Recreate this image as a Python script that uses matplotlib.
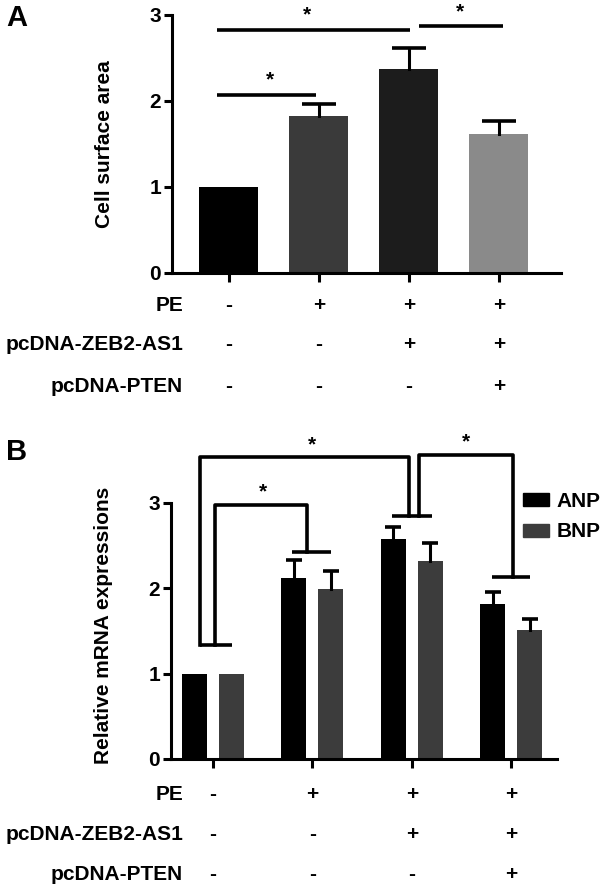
import matplotlib
matplotlib.use('Agg')

import numpy as np
import matplotlib.pyplot as plt
from matplotlib.transforms import blended_transform_factory
from matplotlib.patches import Patch

plt.rcParams['font.family'] = ['Liberation Sans', 'DejaVu Sans']
plt.rcParams['font.weight'] = 'bold'

# data
row_names = ['PE', 'pcDNA-ZEB2-AS1', 'pcDNA-PTEN']
row_signs = [['-', '+', '+', '+'],
             ['-', '-', '+', '+'],
             ['-', '-', '-', '+']]

area_mean = [1.0, 1.83, 2.37, 1.62]
area_err = [0.0, 0.14, 0.25, 0.15]
area_colors = ['#000000', '#3a3a3a', '#1c1c1c', '#8a8a8a']

anp_mean = [1.0, 2.12, 2.57, 1.82]
anp_err = [0.0, 0.21, 0.14, 0.14]
bnp_mean = [1.0, 1.99, 2.32, 1.51]
bnp_err = [0.0, 0.21, 0.21, 0.13]

W, H = 602, 893
FS = 15
fig = plt.figure(figsize=(W / 100, H / 100), dpi=100)


def style_axes(ax):
    for s in ['top', 'right']:
        ax.spines[s].set_visible(False)
    for s in ['left', 'bottom']:
        ax.spines[s].set_linewidth(2.2)
    ax.tick_params(width=2.2, length=6, labelsize=FS, pad=2)
    ax.tick_params(axis='x', labelbottom=False, length=6.5)
    ax.set_ylim(0, 3)
    ax.set_yticks([0, 1, 2, 3])
    for lab in ax.get_yticklabels():
        lab.set_fontweight('bold')


def err_bars(ax, xs, means, errs, cap_ms):
    # upper error bars only, skip zero errors
    for xi, m, e in zip(xs, means, errs):
        if e <= 0:
            continue
        ax.plot([xi, xi], [m, m + e], color='black', lw=2.2)
        ax.plot([xi], [m + e], marker='_', ms=cap_ms, mew=2.6, color='black')


def sign_rows(ax, ys):
    tr = blended_transform_factory(ax.transData, fig.transFigure)
    for name, signs, yp in zip(row_names, row_signs, ys):
        fy = 1 - yp / H
        fig.text(183 / W, fy, name, ha='right', va='center', fontsize=FS, fontweight='bold')
        for i, s in enumerate(signs):
            ax.text(i, fy, s, transform=tr, ha='center', va='center', fontsize=FS,
                    fontweight='bold', clip_on=False)


# ---------- panel A ----------
axA = fig.add_axes([172 / W, 1 - 273 / H, (561 - 172) / W, (273 - 15) / H])
x = np.arange(4)
axA.bar(x, area_mean, width=0.655, color=area_colors)
err_bars(axA, x, area_mean, area_err, 24)
axA.set_xlim(-0.633, 3.69)
axA.set_xticks(x)
style_axes(axA)
axA.set_ylabel('Cell surface area', fontsize=FS, fontweight='bold')
axA.yaxis.set_label_coords(-0.15, 0.5)

# significance lines A
for x0, x1, yl, xs in [(-0.13, 0.97, 2.07, 0.46), (-0.13, 2.01, 2.83, 0.87), (2.11, 3.05, 2.87, 2.57)]:
    axA.plot([x0, x1], [yl, yl], color='black', lw=2.6, clip_on=False, solid_capstyle='butt')
    axA.text(xs, yl + 0.06, '*', ha='center', va='bottom', fontsize=FS, fontweight='bold')

sign_rows(axA, [306, 345, 386])
fig.text(6 / W, 1 - 18 / H, 'A', ha='left', va='center', fontsize=21, fontweight='bold')

# ---------- panel B ----------
axB = fig.add_axes([171 / W, 1 - 759 / H, (557 - 171) / W, (759 - 502.7) / H])
off, bw = 0.186, 0.252
axB.bar(x - off, anp_mean, width=bw, color='#000000', label='ANP')
axB.bar(x + off, bnp_mean, width=bw, color='#3c3c3c', label='BNP')
err_bars(axB, x - off, anp_mean, anp_err, 12)
err_bars(axB, x + off, bnp_mean, bnp_err, 12)
axB.set_xlim(-0.423, 3.46)
axB.set_xticks(x)
style_axes(axB)
axB.set_ylabel('Relative mRNA expressions', fontsize=FS, fontweight='bold')
axB.yaxis.set_label_coords(-0.15, 0.52)

# group bars
group_bars = [(-0.13, 0.19, 1.33), (0.79, 1.19, 2.42), (1.80, 2.20, 2.84), (2.81, 3.19, 2.13)]
for x0, x1, yb in group_bars:
    axB.plot([x0, x1], [yb, yb], color='black', lw=2.6, clip_on=False, solid_capstyle='butt')

# brackets: (left x, left bottom, right x, right bottom, top, star x)
brackets = [(0.016, 1.33, 0.95, 2.42, 2.97, 0.50),
            (-0.13, 1.33, 1.97, 2.84, 3.53, 1.0),
            (2.07, 2.84, 3.02, 2.13, 3.56, 2.54)]
for lx, lb, rx, rb, top, sx in brackets:
    axB.plot([lx, lx, rx, rx], [lb, top, top, rb], color='black', lw=2.6, clip_on=False)
    axB.text(sx, top + 0.04, '*', ha='center', va='bottom', fontsize=FS,
             fontweight='bold', clip_on=False)

fig.legend(handles=[Patch(color='#000000', label='ANP'), Patch(color='#3c3c3c', label='BNP')],
           loc='upper left', bbox_to_anchor=(523 / W, 1 - 492 / H), frameon=False,
           borderaxespad=0, borderpad=0,
           prop={'size': FS, 'weight': 'bold'}, handlelength=1.25, handleheight=0.6,
           handletextpad=0.38, labelspacing=0.55)

sign_rows(axB, [795, 834, 875])
fig.text(6 / W, 1 - 452 / H, 'B', ha='left', va='center', fontsize=21, fontweight='bold')

fig.savefig('out.png', dpi=100)
